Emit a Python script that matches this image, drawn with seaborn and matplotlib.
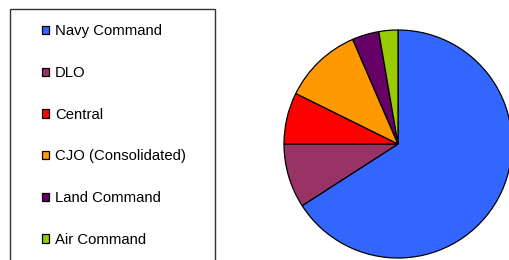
import matplotlib
matplotlib.use("Agg")
import matplotlib.pyplot as plt
import seaborn as sns
from matplotlib.patches import Rectangle

sns.set_theme(style="white")
plt.rcParams['font.family'] = ['Liberation Sans', 'DejaVu Sans']
plt.rcParams['text.color'] = 'black'

# data (share of total, %)
commands = ["Navy Command", "DLO", "Central", "CJO (Consolidated)", "Land Command", "Air Command"]
shares = [65.9, 9.1, 7.3, 11.2, 3.8, 2.7]
colours = ["#3366FF", "#993366", "#FF0000", "#FF9900", "#660066", "#99CC00"]

W, H = 509, 260
fig = plt.figure(figsize=(W / 100, H / 100), dpi=100)

# pie axes: centre (398,144) px, radius 114 px
cx, cy, r = 398, H - 144, 114
ax = fig.add_axes([(cx - r) / W, (cy - r) / H, 2 * r / W, 2 * r / H])
wedges, _ = ax.pie(shares, colors=colours, startangle=90, counterclock=False,
                   wedgeprops=dict(edgecolor="black", linewidth=0.9))
ax.set_xlim(-1, 1)
ax.set_ylim(-1, 1)
ax.set_aspect("auto")
ax.axis("off")
for w in wedges:
    w.set_clip_on(False)

# legend box (runs off the bottom of the image)
fig.patches.append(Rectangle((10 / W, -0.1), 205 / W, (H - 8.5) / H + 0.1,
                             transform=fig.transFigure, fill=False,
                             edgecolor="#333333", linewidth=1))

fig.legend(wedges, commands, loc="upper left",
           bbox_to_anchor=(42 / W, (H - 24.5) / H), frameon=False,
           fontsize=10.7, handlelength=0.5, handleheight=0.5,
           handletextpad=0.36, labelspacing=1.86, borderpad=0, borderaxespad=0)

fig.savefig("out.png", dpi=100)
